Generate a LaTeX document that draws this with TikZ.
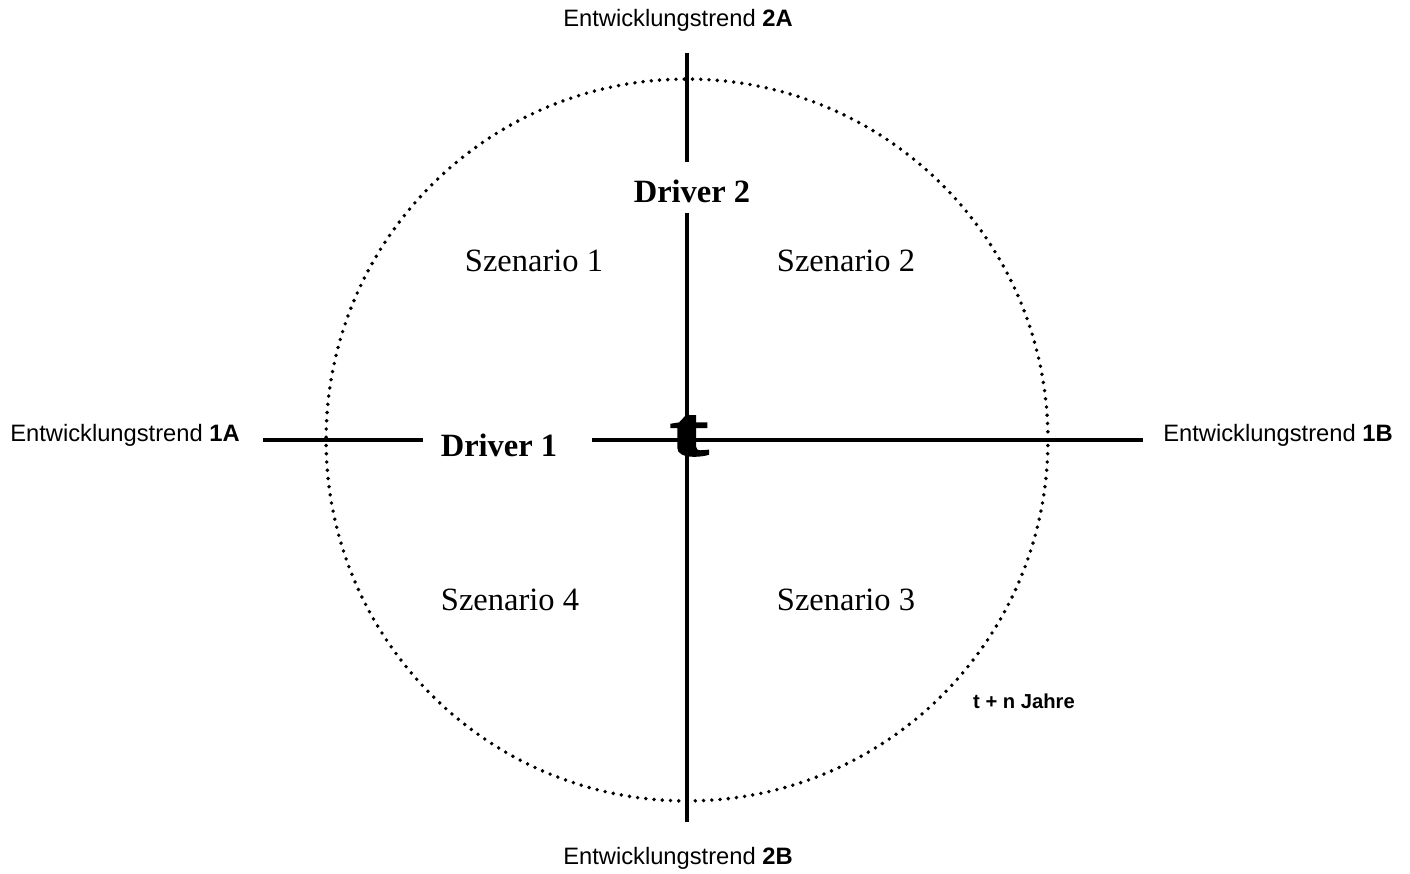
\documentclass[tikz,border=0pt]{standalone}
\usepackage{fontspec}
\setmainfont{Liberation Serif}
\setsansfont{Liberation Sans}
\newfontfamily\zeitfont[FakeBold=3.5, FakeStretch=1.7]{Liberation Serif}
\usetikzlibrary{positioning}
\tikzset{
  achse/.style={line width=2.6pt, draw=black},
  kreis/.style={line width=2.2pt, dash pattern=on 0pt off 4.7pt, line cap=round},
  szen/.style={anchor=base, font=\fontsize{18.5}{20}\selectfont},
  treiber/.style={anchor=base, font=\fontsize{18.5}{20}\selectfont\bfseries},
  trend/.style={anchor=base, font=\sffamily\fontsize{13.5}{15}\selectfont},
  jahre/.style={anchor=base, font=\sffamily\bfseries\fontsize{11.5}{13}\selectfont},
  zeitpkt/.style={font=\zeitfont\bfseries\fontsize{39}{39}\selectfont, inner sep=0pt},
}

\begin{document}
\begin{tikzpicture}[x=0.02cm, y=-0.02cm]
  \useasboundingbox[fill=white] (0,0) rectangle (1410,874);
  % Zeithorizont
  \draw[kreis] (687,440) circle [radius=7.22cm];
  % Achsen
  \coordinate (oben) at (687,53);
  \coordinate (unten) at (687,822);
  \coordinate (links) at (263,440);
  \coordinate (rechts) at (1143,440);
  \coordinate (d2o) at (687,162);
  \coordinate (d2u) at (687,213);
  \coordinate (d1l) at (423,440);
  \coordinate (d1r) at (592,440);
  \draw[achse] (oben) -- (d2o);
  \draw[achse] (d2u) -- (unten);
  \draw[achse] (links) -- (d1l);
  \draw[achse] (d1r) -- (rechts);
  \node[treiber] (drv1) at (499,457) {Driver 1};
  \node[treiber] (drv2) at (692,203) {Driver 2};
  \node[zeitpkt] (zeit) at (689,436) {t};
  % Szenarien
  \node[szen] (sz1) at (534,272) {Szenario 1};
  \node[szen] (sz2) at (846,272) {Szenario 2};
  \node[szen] (sz3) at (846,610) {Szenario 3};
  \node[szen] (sz4) at (510,610) {Szenario 4};
  % Trends
  \node[trend] (tr2a) at (678,27) {Entwicklungstrend \textbf{2A}};
  \node[trend] (tr2b) at (678,864) {Entwicklungstrend \textbf{2B}};
  \node[trend] (tr1a) at (125,442) {Entwicklungstrend \textbf{1A}};
  \node[trend] (tr1b) at (1278,442) {Entwicklungstrend \textbf{1B}};
  \node[jahre] (tn) at (1024,708) {t + n Jahre};
\end{tikzpicture}
\end{document}
